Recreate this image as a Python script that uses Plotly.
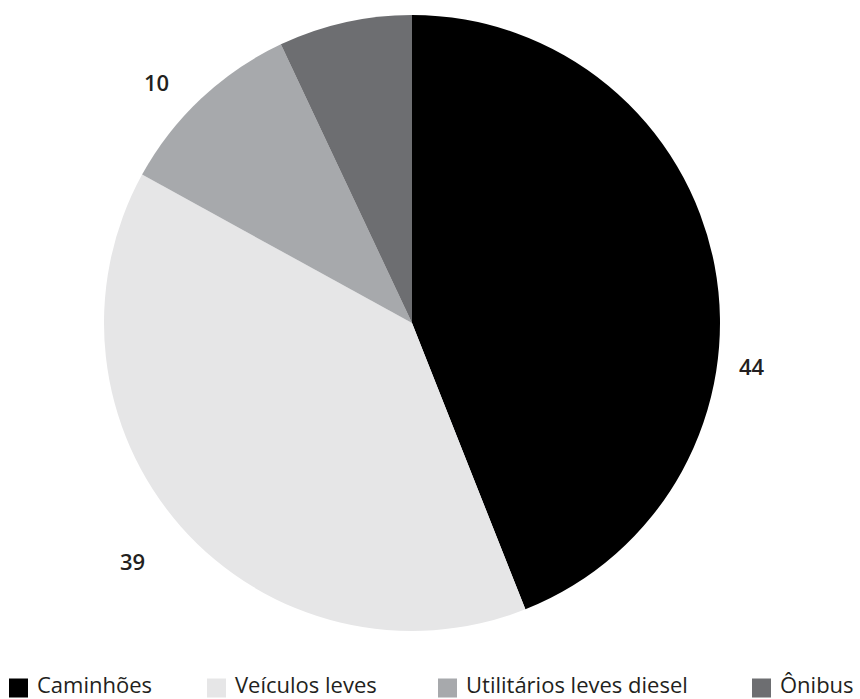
import math
import plotly.graph_objects as go

categories = ["Caminhões", "Veículos leves", "Utilitários leves diesel", "Ônibus"]
values = [44, 39, 10, 7]
colors = ["#000000", "#e6e6e7", "#a7a9ac", "#6d6e71"]

W, H = 860, 699
CX, CY, R = 412, 323, 308
# label placement style (distance factor, angular shift in degrees)
label_dist = [1.113, 1.19, 1.14, 1.2]
label_shift = [18, 1, -3.4, 0]
# legend layout style (left edge of each swatch in px, swatch size, row centre)
legend_x = [9, 207, 438, 752]
SW = 19
LEG_Y = 688
TEXT_Y = 684
TEXT_COLOR = "#231f20"

fig = go.Figure(go.Pie(
    labels=categories,
    values=values,
    marker=dict(colors=colors, line=dict(width=0)),
    sort=False,
    direction="clockwise",
    rotation=0,
    textinfo="none",
    hoverinfo="label+value",
    showlegend=False,
    domain=dict(x=[(CX - R) / W, (CX + R) / W], y=[(H - CY - R) / H, (H - CY + R) / H]),
))

total = sum(values)
cum = 0
for i, v in enumerate(values):
    mid = (cum + v / 2) / total * 360 + label_shift[i]
    cum += v
    a = math.radians(mid)
    d = label_dist[i] * R
    px = CX + d * math.sin(a)
    py = CY - d * math.cos(a)
    fig.add_annotation(
        x=px / W, y=(H - py) / H, xref="paper", yref="paper",
        text=str(v), showarrow=False,
        font=dict(family="Open Sans", size=22, color=TEXT_COLOR, weight=600),
        xanchor="center", yanchor="middle",
    )

# manual legend
for name, col, lx in zip(categories, colors, legend_x):
    fig.add_shape(
        type="rect", xref="paper", yref="paper",
        x0=lx / W, x1=(lx + SW) / W,
        y0=(H - LEG_Y - SW / 2) / H, y1=(H - LEG_Y + SW / 2) / H,
        fillcolor=col, line=dict(width=0),
    )
    fig.add_annotation(
        x=(lx + SW + 7) / W, y=(H - TEXT_Y) / H, xref="paper", yref="paper",
        text=name, showarrow=False,
        font=dict(family="Open Sans", size=22, color=TEXT_COLOR),
        xanchor="left", yanchor="middle",
    )

fig.update_layout(
    width=W, height=H,
    margin=dict(l=0, r=0, t=0, b=0),
    paper_bgcolor="white", plot_bgcolor="white",
    showlegend=False,
)

fig.write_html("out.html")
